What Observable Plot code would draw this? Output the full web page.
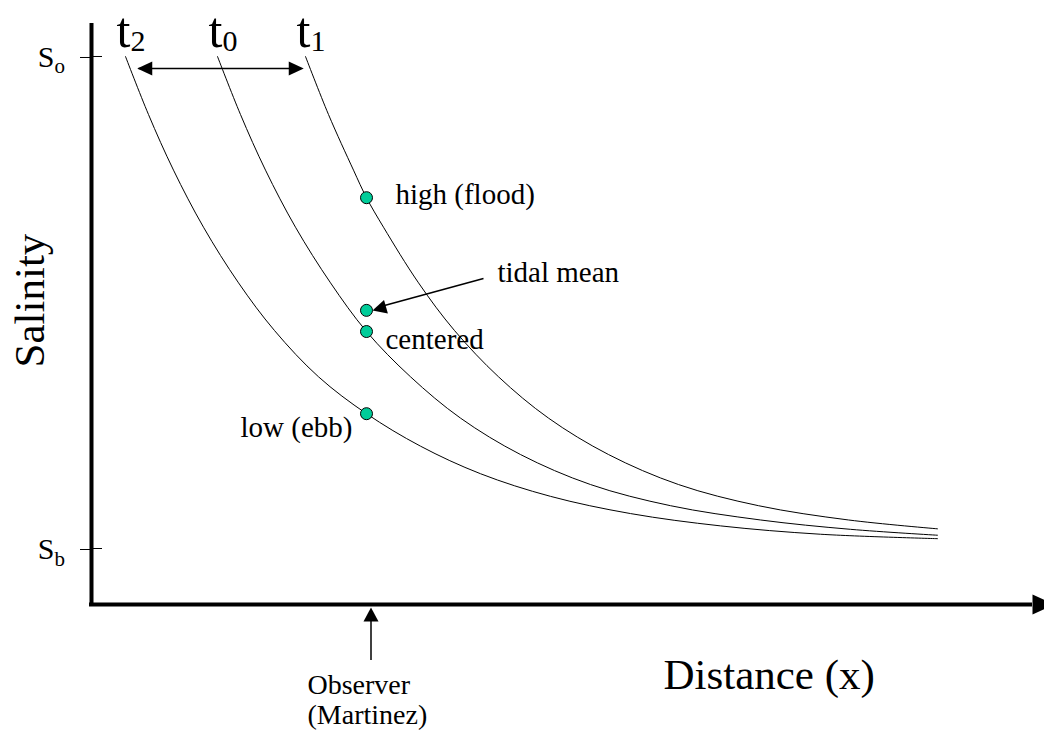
<!DOCTYPE html>
<html><head><meta charset="utf-8">
<script src="https://cdn.jsdelivr.net/npm/d3@7"></script>
<script src="https://cdn.jsdelivr.net/npm/@observablehq/plot@0.6"></script>
<style>
html,body{margin:0;padding:0;background:#fff;overflow:hidden;}
#chart svg{display:block;}
</style></head><body><div id="chart"></div>
<script>
// Salinity normalised: S_b = 0, S_o = 1 ; distance in arbitrary units
const yTicks = [0, 1];
const yTickSubs = ["b", "o"];

const t2Dist = [1.36, 2.28, 3.28, 4.48, 5.88, 7.32, 9.08, 11.0, 13.16, 15.56, 18.36, 21.56, 25.16, 29.16, 33.84];
const t2Sal  = [1.000, 0.882, 0.769, 0.653, 0.540, 0.443, 0.349, 0.274, 0.208, 0.152, 0.106, 0.071, 0.046, 0.029, 0.020];
const t0Dist = [5.04, 5.96, 6.96, 8.16, 9.56, 11.0, 12.76, 14.76, 17.16, 19.96, 23.16, 26.76, 30.36, 33.84];
const t0Sal  = [1.000, 0.882, 0.769, 0.653, 0.540, 0.441, 0.349, 0.265, 0.191, 0.130, 0.087, 0.058, 0.039, 0.027];
const t1Dist = [8.56, 9.48, 10.48, 11.0, 11.68, 13.08, 14.52, 16.28, 18.28, 20.68, 23.48, 26.68, 30.28, 33.84];
const t1Sal  = [1.000, 0.882, 0.769, 0.713, 0.653, 0.540, 0.443, 0.349, 0.265, 0.191, 0.130, 0.087, 0.058, 0.040];

const curveNames = ["2", "0", "1"];
const obsDist = 11.0;
const obsNames = ["high (flood)", "tidal mean", "centered", "low (ebb)"];
const obsSal = [0.713, 0.484, 0.441, 0.274];
const observerDist = 11.18;

const series = [[t2Dist, t2Sal], [t0Dist, t0Sal], [t1Dist, t1Sal]];
const curves = series.flatMap(([xs, ss], k) => xs.map((x, i) => ({curve: curveNames[k], x, s: ss[i]})));
const starts = series.map(([xs, ss], k) => ({name: curveNames[k], x: xs[0], s: ss[0]}));
const obs = obsNames.map((name, i) => ({name, x: obsDist, s: obsSal[i]}));

const yBottom = -0.1138, yTop = 1.067, xEnd = 37.64;
const serif = "'Liberation Serif', 'Times New Roman', Times, serif";

const chart = Plot.plot({
  width: 1044, height: 737,
  marginLeft: 91, marginRight: 0, marginTop: 0, marginBottom: 133,
  x: {domain: [0, 38.12], axis: null},
  y: {domain: [yBottom, 1.1138]},
  style: {fontFamily: serif, color: "black", background: "white"},
  marks: [
    Plot.line(curves, {x: "x", y: "s", z: "curve", curve: "catmull-rom", stroke: "black", strokeWidth: 1}),
    // axes
    Plot.ruleX([0], {y1: yBottom, y2: yTop, strokeWidth: 4}),
    Plot.ruleY([yBottom], {x1: -0.08, x2: xEnd, strokeWidth: 4}),
    Plot.vector([0], {x: xEnd, y: yBottom, rotate: 90, length: 22, anchor: "start", shape: "spike", r: 10, fill: "black", stroke: "none"}),
    Plot.axisY({ticks: yTicks, tickSize: 11, tickPadding: 26, tickFormat: () => "S", fontSize: 30, label: null, dy: 1}),
    Plot.ruleY(yTicks, {x1: 0, x2: 0.44, strokeWidth: 1}),
    Plot.text(yTicks, {x: 0, y: d => d, text: (d, i) => yTickSubs[i], dx: -37, dy: 17, textAnchor: "start", lineAnchor: "bottom", fontSize: 21}),
    // t labels
    Plot.text(starts, {x: "x", y: "s", text: () => "t", dx: -9, dy: -9, textAnchor: "start", lineAnchor: "bottom", fontSize: 50}),
    Plot.text(starts, {x: "x", y: "s", text: "name", dx: 5, dy: -5, textAnchor: "start", lineAnchor: "bottom", fontSize: 30}),
    // tidal excursion arrow
    Plot.ruleY([0.9756], {x1: 1.9, x2: 8.4, strokeWidth: 1.5}),
    Plot.vector([0], {x: 1.83, y: 0.9756, rotate: 270, length: 15, anchor: "end", shape: "spike", r: 7, fill: "black", stroke: "none"}),
    Plot.vector([0], {x: 8.49, y: 0.9756, rotate: 90, length: 15, anchor: "end", shape: "spike", r: 7, fill: "black", stroke: "none"}),
    // tidal mean arrow
    Plot.link([0], {x1: 15.68, y1: 0.5488, x2: 11.5, y2: 0.491, strokeWidth: 1.5}),
    Plot.vector([0], {x: 11.24, y: 0.4837, rotate: 254, length: 14, anchor: "end", shape: "spike", r: 7, fill: "black", stroke: "none"}),
    // observer arrow
    Plot.ruleX([observerDist], {y1: -0.2276, y2: -0.14, strokeWidth: 1.5}),
    Plot.vector([0], {x: observerDist, y: -0.1199, rotate: 0, length: 14, anchor: "end", shape: "spike", r: 7.5, fill: "black", stroke: "none"}),
    // points
    Plot.dot(obs, {x: "x", y: "s", r: 6, fill: "#00cc99", stroke: "black", strokeWidth: 1}),
    // labels
    Plot.text([obs[0]], {x: "x", y: "s", text: "name", dx: 29, dy: 6, textAnchor: "start", lineAnchor: "bottom", fontSize: 29}),
    Plot.text([obs[1]], {x: 15.68, y: 0.5488, text: "name", dx: 14, dy: 4, textAnchor: "start", lineAnchor: "bottom", fontSize: 29}),
    Plot.text([obs[2]], {x: "x", y: "s", text: "name", dx: 19, dy: 17, textAnchor: "start", lineAnchor: "bottom", fontSize: 29}),
    Plot.text([obs[3]], {x: "x", y: "s", text: "name", dx: -14, dy: 23, textAnchor: "end", lineAnchor: "bottom", fontSize: 29}),
    Plot.text(["Observer\n(Martinez)"], {x: observerDist, y: -0.2276, text: d => d, dx: -63.5, dy: 13, textAnchor: "start", lineAnchor: "top", lineHeight: 1.05, fontSize: 28}),
    Plot.text(["Salinity"], {x: -1.92, y: 0.504, text: d => d, rotate: -90, textAnchor: "middle", lineAnchor: "bottom", fontSize: 43}),
    Plot.text(["Distance (x)"], {x: 22.88, y: -0.2846, text: d => d, textAnchor: "start", lineAnchor: "bottom", fontSize: 43})
  ]
});
document.getElementById("chart").append(chart);
</script>
</body></html>
